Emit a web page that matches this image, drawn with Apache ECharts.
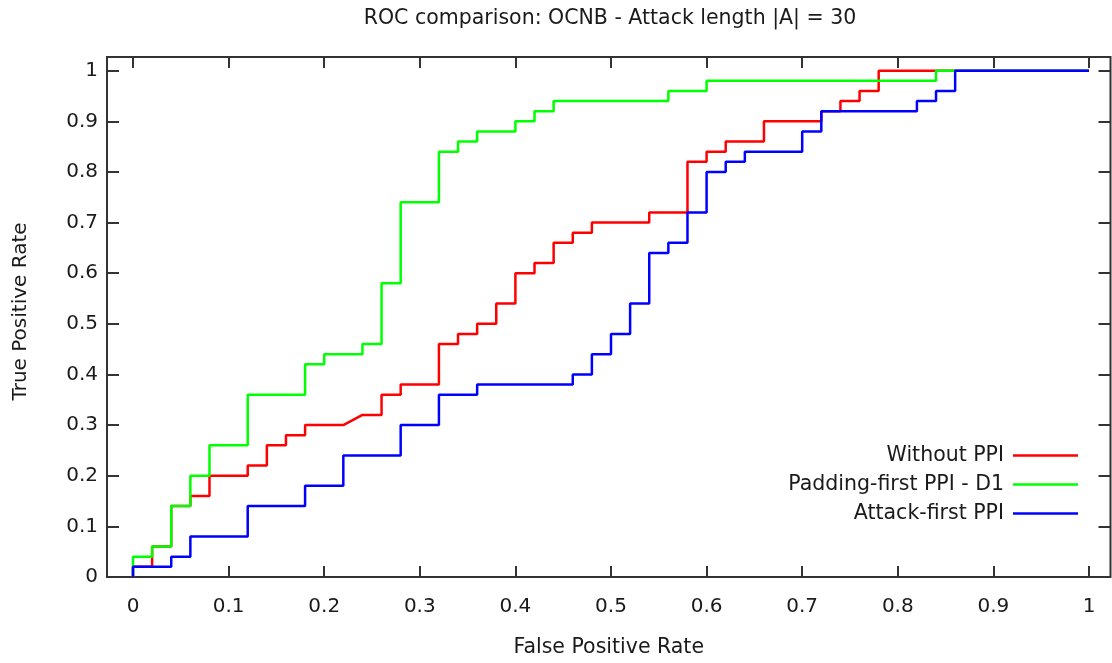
<!DOCTYPE html>
<html>
<head>
<meta charset="utf-8">
<script src="https://cdn.jsdelivr.net/npm/echarts@6/dist/echarts.min.js"></script>
<style>
html,body{margin:0;padding:0;background:#fff;}
#chart{width:1112px;height:663px;}
</style>
</head>
<body>
<div id="chart"></div>
<script>
// ---- Data (ROC curve vertices: false positive rate / true positive rate) ----
const seriesNames = ['Without PPI', 'Padding-first PPI - D1', 'Attack-first PPI'];

const fprWithout = [0,0,0.02,0.02,0.04,0.04,0.06,0.06,0.08,0.08,0.12,0.12,0.14,0.14,0.16,0.16,0.18,0.18,0.22,0.24,0.26,0.26,0.28,0.28,0.32,0.32,0.34,0.34,0.36,0.36,0.38,0.38,0.40,0.40,0.42,0.42,0.44,0.44,0.46,0.46,0.48,0.48,0.54,0.54,0.58,0.58,0.60,0.60,0.62,0.62,0.66,0.66,0.72,0.72,0.74,0.74,0.76,0.76,0.78,0.78,1];
const tprWithout = [0,0.02,0.02,0.06,0.06,0.14,0.14,0.16,0.16,0.20,0.20,0.22,0.22,0.26,0.26,0.28,0.28,0.30,0.30,0.32,0.32,0.36,0.36,0.38,0.38,0.46,0.46,0.48,0.48,0.50,0.50,0.54,0.54,0.60,0.60,0.62,0.62,0.66,0.66,0.68,0.68,0.70,0.70,0.72,0.72,0.82,0.82,0.84,0.84,0.86,0.86,0.90,0.90,0.92,0.92,0.94,0.94,0.96,0.96,1.00,1.00];

const fprPadding = [0,0,0.02,0.02,0.04,0.04,0.06,0.06,0.08,0.08,0.12,0.12,0.18,0.18,0.20,0.20,0.24,0.24,0.26,0.26,0.28,0.28,0.32,0.32,0.34,0.34,0.36,0.36,0.40,0.40,0.42,0.42,0.44,0.44,0.56,0.56,0.60,0.60,0.84,0.84,1];
const tprPadding = [0,0.04,0.04,0.06,0.06,0.14,0.14,0.20,0.20,0.26,0.26,0.36,0.36,0.42,0.42,0.44,0.44,0.46,0.46,0.58,0.58,0.74,0.74,0.84,0.84,0.86,0.86,0.88,0.88,0.90,0.90,0.92,0.92,0.94,0.94,0.96,0.96,0.98,0.98,1.00,1.00];

const fprAttack = [0,0,0.04,0.04,0.06,0.06,0.12,0.12,0.18,0.18,0.22,0.22,0.28,0.28,0.32,0.32,0.36,0.36,0.46,0.46,0.48,0.48,0.50,0.50,0.52,0.52,0.54,0.54,0.56,0.56,0.58,0.58,0.60,0.60,0.62,0.62,0.64,0.64,0.70,0.70,0.72,0.72,0.82,0.82,0.84,0.84,0.86,0.86,1];
const tprAttack = [0,0.02,0.02,0.04,0.04,0.08,0.08,0.14,0.14,0.18,0.18,0.24,0.24,0.30,0.30,0.36,0.36,0.38,0.38,0.40,0.40,0.44,0.44,0.48,0.48,0.54,0.54,0.64,0.64,0.66,0.66,0.72,0.72,0.80,0.80,0.82,0.82,0.84,0.84,0.88,0.88,0.92,0.92,0.94,0.94,0.96,0.96,1.00,1.00];

const tickValues = [0,0.1,0.2,0.3,0.4,0.5,0.6,0.7,0.8,0.9,1];
const tickLabels = ['0','0.1','0.2','0.3','0.4','0.5','0.6','0.7','0.8','0.9','1'];

const titleText = 'ROC comparison: OCNB - Attack length |A| = 30';
const xTitle = 'False Positive Rate';
const yTitle = 'True Positive Rate';
const colors = ['#ff0000', '#00ff00', '#0000ff'];

// ---- Build ----
function pts(xs, ys){ return xs.map((x,i)=>[x, ys[i]]); }
const FONT = 'DejaVu Sans';
const TXT = '#1a1a1a';
const AX = '#333333';
function fmt(v){
  const i = tickValues.findIndex(t => Math.abs(t - v) < 1e-9);
  return i >= 0 ? tickLabels[i] : '';
}
function tickAxis(extra){
  return Object.assign({
    type: 'value',
    axisLine: {show: false, onZero: false},
    splitLine: {show: false}
  }, extra);
}

const chart = echarts.init(document.getElementById('chart'), null, {renderer:'canvas'});
const option = {
  animation: false,
  backgroundColor: '#ffffff',
  textStyle: {fontFamily: FONT},
  graphic: [{
    type: 'text', x: 610, y: 19,
    style: {text: titleText, fontFamily: FONT, fontSize: 20.5, fill: TXT, textAlign: 'center', textVerticalAlign: 'middle'}
  },{
    type: 'text', x: 21, y: 311.5, rotation: Math.PI / 2,
    style: {text: yTitle, fontFamily: FONT, fontSize: 20, fill: TXT, textAlign: 'center', textVerticalAlign: 'middle'}
  }],
  grid: {left: 107, right: 1.5, top: 57, bottom: 86, show: true, borderColor: AX, borderWidth: 2, backgroundColor: 'transparent'},
  legend: {
    orient: 'vertical', right: 29, bottom: 134, align: 'right',
    icon: 'rect', itemWidth: 65, itemHeight: 2.5, itemGap: 8,
    textStyle: {fontFamily: FONT, fontSize: 20.5, color: TXT, padding: [0,4,0,0]},
    data: seriesNames
  },
  xAxis: [
    tickAxis({
      min: -0.0272, max: 1.0225, position: 'bottom',
      name: xTitle, nameLocation: 'middle', nameGap: 60,
      nameTextStyle: {fontFamily: FONT, fontSize: 20.5, color: TXT},
      axisTick: {show: true, inside: true, length: 11, customValues: tickValues, lineStyle: {color: AX, width: 2}},
      axisLabel: {show: true, customValues: tickValues, formatter: fmt, margin: 20, fontFamily: FONT, fontSize: 20, color: TXT}
    }),
    tickAxis({
      min: -0.0272, max: 1.0225, position: 'top',
      axisTick: {show: true, inside: true, length: 11, customValues: tickValues, lineStyle: {color: AX, width: 2}},
      axisLabel: {show: false}
    })
  ],
  yAxis: [
    tickAxis({
      min: 0, max: 1.027, position: 'left',
      axisTick: {show: true, inside: true, length: 12, customValues: tickValues, lineStyle: {color: AX, width: 2}},
      axisLabel: {show: true, customValues: tickValues, formatter: fmt, margin: 9, fontFamily: FONT, fontSize: 20, color: TXT}
    }),
    tickAxis({
      min: 0, max: 1.027, position: 'right',
      axisTick: {show: true, inside: true, length: 12, customValues: tickValues, lineStyle: {color: AX, width: 2}},
      axisLabel: {show: false}
    })
  ],
  series: [
    {name: seriesNames[0], type: 'line', data: pts(fprWithout, tprWithout), showSymbol: false, symbol: 'none', color: colors[0], lineStyle: {color: colors[0], width: 2.5}, z: 2},
    {name: seriesNames[1], type: 'line', data: pts(fprPadding, tprPadding), showSymbol: false, symbol: 'none', color: colors[1], lineStyle: {color: colors[1], width: 2.5}, z: 3},
    {name: seriesNames[2], type: 'line', data: pts(fprAttack, tprAttack), showSymbol: false, symbol: 'none', color: colors[2], lineStyle: {color: colors[2], width: 2.5}, z: 4}
  ]
};
chart.setOption(option);
</script>
</body>
</html>
